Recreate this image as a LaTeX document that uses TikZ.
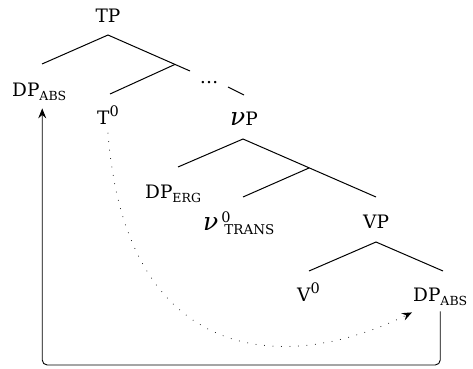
\documentclass[tikz,border=0pt]{standalone}
\usepackage{fontspec}
\setmainfont{DejaVu Serif}
\usetikzlibrary{arrows.meta}
\newcommand\subtx[1]{\raisebox{-4pt}{\fontsize{12.5}{12.5}\selectfont #1}}
\newcommand\suptx[1]{\raisebox{8pt}{\fontsize{14.5}{14.5}\selectfont #1}}
\newcommand\bignu{\scalebox{1.35}{\itshape ν}}
\begin{document}
\begin{tikzpicture}[x=1pt,y=1pt,
  lbl/.style={inner sep=0pt, anchor=base west, font=\fontsize{18.5}{21}\selectfont},
  branch/.style={line width=1pt},
  mover/.style={line width=0.9pt, rounded corners=5pt, -{Stealth[length=10pt,width=8pt,inset=3.5pt]}},
  trace/.style={line width=1pt, dash pattern=on 0pt off 8.5pt, line cap=round, -{Stealth[length=10pt,width=8pt,inset=3.5pt]}}]
\useasboundingbox (0,0) rectangle (473,368);
% labels
\node[lbl, anchor=base] (TP) at (108,346) {TP};
\node[lbl] (DPl) at (12,272) {DP\subtx{ABS}};
\node[lbl] (T0) at (97,244) {T\suptx{0}};
\node[lbl, anchor=base] (dots) at (209,285) {\dots};
\node[lbl] (vP) at (230,243) {\bignu P};
\node[lbl] (DPe) at (145,170) {DP\subtx{ERG}};
\node[lbl] (v0) at (203,138) {\bignu\kern3pt\rlap{\suptx{0}}\kern3pt\raisebox{-4pt}{\fontsize{13.5}{13.5}\selectfont TRANS}};
\node[lbl] (VP) at (363,140) {VP};
\node[lbl] (V0) at (297,67) {V\suptx{0}};
\node[lbl] (DPr) at (413,67) {DP\subtx{ABS}};
% tree coordinates
\coordinate (TPa) at (108,333);
\coordinate (TPl) at (42,304);
\coordinate (TPr) at (190,297);
\coordinate (TPm) at (175,303.6);
\coordinate (T0t) at (110,274);
\coordinate (dl) at (228,281);
\coordinate (dr) at (244,273);
\coordinate (vPa) at (243,229);
\coordinate (vPl) at (178,201);
\coordinate (vPr) at (376,171);
\coordinate (vPm) at (309,200);
\coordinate (v0t) at (243,171);
\coordinate (VPa) at (376,126);
\coordinate (VPl) at (309,97);
\coordinate (VPr) at (443,97);
\coordinate (bot) at (0,3);
% branches
\draw[branch] (TPl) -- (TPa) -- (TPr);
\draw[branch] (TPm) -- (T0t);
\draw[branch] (dl) -- (dr);
\draw[branch] (vPl) -- (vPa) -- (vPr);
\draw[branch] (vPm) -- (v0t);
\draw[branch] (VPl) -- (VPa) -- (VPr);
% movement
\draw[trace] ([yshift=-9pt]T0.south) .. controls (125,10) and (277,-11) .. ([shift={(-1,-7)}]DPr.south west);
\draw[mover] ([yshift=-6pt]DPr.south) -- (DPr.south |- bot) -| ([shift={(3,-8)}]DPl.south);
\end{tikzpicture}
\end{document}
